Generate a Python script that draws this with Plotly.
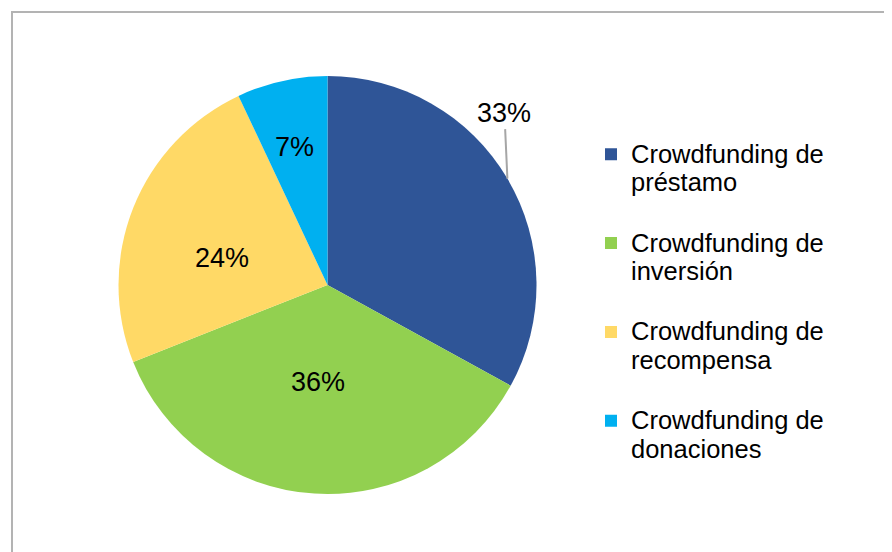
import math
import plotly.graph_objects as go

line1 = ["Crowdfunding de", "Crowdfunding de", "Crowdfunding de", "Crowdfunding de"]
line2 = ["préstamo", "inversión", "recompensa", "donaciones"]
values = [33, 36, 24, 7]
colors = ["#2F5597", "#92D050", "#FFD966", "#00B0F0"]

W, H = 892, 552
OFF = 8  # page body margin of the rendered html
cx, cy, r = 327.5 - OFF, 285.0 - OFF, 209.0  # pie centre / radius in figure px
label_radius = [None, 0.467, 0.521, 0.68]      # inside-label radial position (fraction of r)
label_turn = [0.0, 2.0, -7.2, -1.0]            # inside-label angular nudge (degrees)
FONT = "Liberation Sans, Arial"

span = "<span style='font-size:25.5px'>{}</span>"
legend_labels = [span.format(a) + "<br>" + span.format(b) + "<br>\u00a0"
                 for a, b in zip(line1, line2)]

dom_x = [(cx - r) / W, (cx + r) / W]
dom_y = [(H - cy - r) / H, (H - cy + r) / H]

fig = go.Figure(go.Pie(
    labels=legend_labels,
    values=values,
    sort=False,
    direction="clockwise",
    rotation=0,
    marker=dict(colors=colors, line=dict(width=0)),
    textinfo="none",
    hoverinfo="percent",
    domain=dict(x=dom_x, y=dom_y),
))

total = sum(values)
cum = 0.0
for i, v in enumerate(values):
    mid = (cum + v / 2) / total * 2 * math.pi
    cum += v
    txt = f"{round(100 * v / total)}%"
    if label_radius[i] is None:
        # outside label with vertical leader line
        px = (cx + r * math.sin(mid)) / W
        py = (H - (cy - r * math.cos(mid))) / H
        fig.add_annotation(
            x=px, y=py, xref="paper", yref="paper", text=txt,
            showarrow=True, arrowhead=0, arrowwidth=2, arrowcolor="#A6A6A6",
            ax=-3, ay=-66, standoff=0,
            font=dict(family=FONT, size=27, color="#000000"),
        )
    else:
        a = mid + math.radians(label_turn[i])
        k = label_radius[i] * r
        px = (cx + k * math.sin(a)) / W
        py = (H - (cy - k * math.cos(a))) / H
        fig.add_annotation(
            x=px, y=py, xref="paper", yref="paper", text=txt, showarrow=False,
            xanchor="center", yanchor="middle",
            font=dict(family=FONT, size=27, color="#000000"),
        )

# chart-area border
fig.add_shape(type="rect", xref="paper", yref="paper",
              x0=(12 - OFF) / W, y0=-0.2, x1=1.2, y1=1 - (12 - OFF) / H,
              line=dict(color="#B3B3B3", width=2), fillcolor="rgba(0,0,0,0)")

fig.update_layout(
    width=W, height=H,
    margin=dict(l=0, r=0, t=0, b=0),
    paper_bgcolor="#FFFFFF",
    plot_bgcolor="#FFFFFF",
    showlegend=True,
    legend=dict(
        x=(591 - OFF) / W, xanchor="left",
        y=1 - 125.5 / H, yanchor="top",
        font=dict(family=FONT, size=22, color="#000000"),
        valign="top",
        bgcolor="rgba(0,0,0,0)",
    ),
    font=dict(family=FONT),
)

fig.write_html("out.html")
